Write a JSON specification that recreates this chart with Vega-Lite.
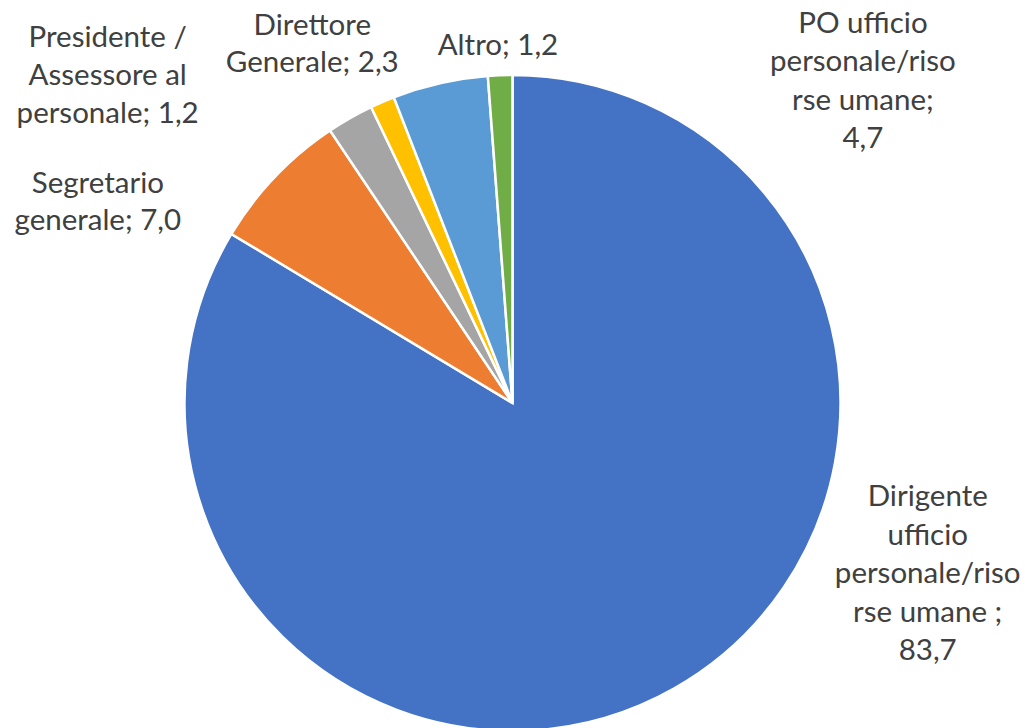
{
  "$schema": "https://vega.github.io/schema/vega-lite/v6.json",
  "width": 1025,
  "height": 806,
  "autosize": "none",
  "padding": 0,
  "background": "white",
  "config": {"view": {"stroke": null}},
  "data": {
    "values": [
      {"key": "dir", "order": 1, "name": "Dirigente ufficio personale/risorse umane", "value": 83.7, "label": "Dirigente\nufficio\npersonale/riso\nrse umane ;\n83,7"},
      {"key": "seg", "order": 2, "name": "Segretario generale", "value": 7.0, "label": "Segretario\ngenerale; 7,0"},
      {"key": "dg", "order": 3, "name": "Direttore Generale", "value": 2.3, "label": "Direttore\nGenerale; 2,3"},
      {"key": "pres", "order": 4, "name": "Presidente / Assessore al personale", "value": 1.2, "label": "Presidente /\nAssessore al\npersonale; 1,2"},
      {"key": "po", "order": 5, "name": "PO ufficio personale/risorse umane", "value": 4.7, "label": "PO ufficio\npersonale/riso\nrse umane;\n4,7"},
      {"key": "alt", "order": 6, "name": "Altro", "value": 1.2, "label": "Altro; 1,2"}
    ]
  },
  "transform": [
    {"stack": "value", "groupby": [], "sort": [{"field": "order", "order": "ascending"}], "as": ["v0", "v1"]},
    {"calculate": "(datum.v0 + datum.v1) / 2", "as": "mid"}
  ],
  "layer": [
    {
      "mark": {"type": "arc", "outerRadius": 328, "stroke": "white", "strokeWidth": 2.5},
      "encoding": {
        "theta": {"field": "v0", "type": "quantitative", "stack": null, "scale": {"domain": [0, 100.1]}},
        "theta2": {"field": "v1"},
        "color": {
          "field": "name", "type": "nominal", "legend": null,
          "scale": {
            "domain": ["Dirigente ufficio personale/risorse umane", "Segretario generale", "Direttore Generale", "Presidente / Assessore al personale", "PO ufficio personale/risorse umane", "Altro"],
            "range": ["#4472C4", "#ED7D31", "#A5A5A5", "#FFC000", "#5B9BD5", "#70AD47"]
          }
        }
      }
    },
    {
      "transform": [{"filter": "datum.key === 'dir'"}],
      "mark": {"type": "text", "radius": 360, "dx": 238, "dy": -219, "align": "center", "baseline": "middle", "lineBreak": "\n", "lineHeight": 38.5, "fontSize": 29.5, "font": "Lato", "color": "#404040"},
      "encoding": {"theta": {"field": "mid", "type": "quantitative", "stack": null}, "text": {"field": "label"}}
    },
    {
      "transform": [{"filter": "datum.key === 'seg'"}],
      "mark": {"type": "text", "radius": 360, "dx": -154, "dy": 29, "align": "center", "baseline": "middle", "lineBreak": "\n", "lineHeight": 37, "fontSize": 29.5, "font": "Lato", "color": "#404040"},
      "encoding": {"theta": {"field": "mid", "type": "quantitative", "stack": null}, "text": {"field": "label"}}
    },
    {
      "transform": [{"filter": "datum.key === 'dg'"}],
      "mark": {"type": "text", "radius": 360, "dx": -22, "dy": -64, "align": "center", "baseline": "middle", "lineBreak": "\n", "lineHeight": 37, "fontSize": 29.5, "font": "Lato", "color": "#404040"},
      "encoding": {"theta": {"field": "mid", "type": "quantitative", "stack": null}, "text": {"field": "label"}}
    },
    {
      "transform": [{"filter": "datum.key === 'pres'"}],
      "mark": {"type": "text", "radius": 360, "dx": -262, "dy": -35, "align": "center", "baseline": "middle", "lineBreak": "\n", "lineHeight": 38, "fontSize": 29.5, "font": "Lato", "color": "#404040"},
      "encoding": {"theta": {"field": "mid", "type": "quantitative", "stack": null}, "text": {"field": "label"}}
    },
    {
      "transform": [{"filter": "datum.key === 'po'"}],
      "mark": {"type": "text", "radius": 360, "dx": 430, "dy": -28, "align": "center", "baseline": "middle", "lineBreak": "\n", "lineHeight": 38.5, "fontSize": 29.5, "font": "Lato", "color": "#404040"},
      "encoding": {"theta": {"field": "mid", "type": "quantitative", "stack": null}, "text": {"field": "label"}}
    },
    {
      "transform": [{"filter": "datum.key === 'alt'"}],
      "mark": {"type": "text", "radius": 360, "dx": -1, "dy": 3, "align": "center", "baseline": "middle", "lineBreak": "\n", "lineHeight": 38, "fontSize": 29.5, "font": "Lato", "color": "#404040"},
      "encoding": {"theta": {"field": "mid", "type": "quantitative", "stack": null}, "text": {"field": "label"}}
    }
  ]
}
